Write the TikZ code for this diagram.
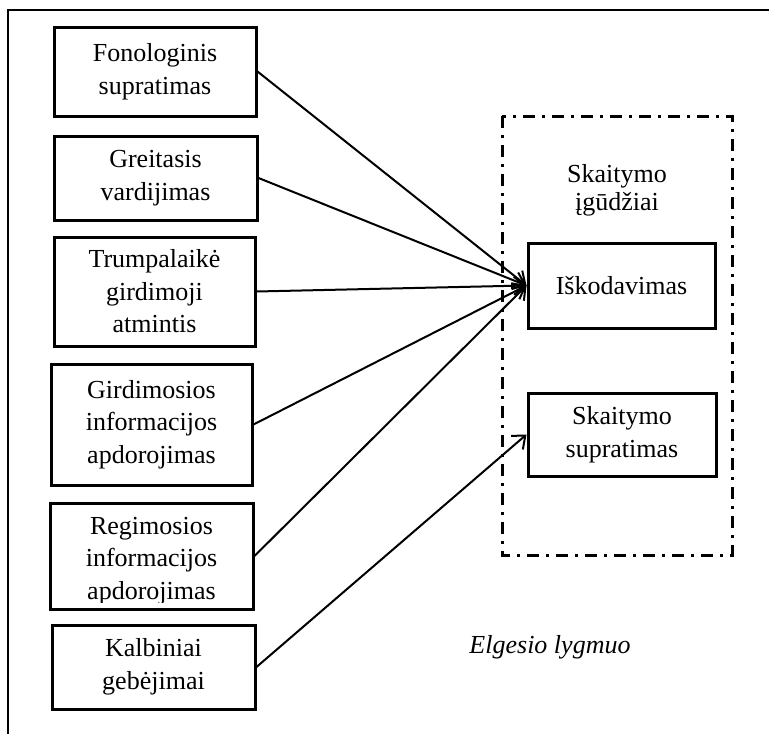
\documentclass[tikz,border=0pt]{standalone}
\usepackage{fontspec}
\setmainfont{Liberation Serif}
\usetikzlibrary{arrows.meta}
\begin{document}
\begin{tikzpicture}[x=1pt,y=-1pt,
  txt/.style={inner sep=0pt,align=center,font=\fontsize{26}{32.5}\selectfont},
  box/.style={txt,draw,line width=3pt},
  conn/.style={line width=2pt,-{Straight Barb[length=11pt,width=18pt,line width=2pt]}},
  frameline/.style={line width=2.6pt},
  group/.style={line width=3pt,dash pattern=on 12pt off 7pt on 3pt off 7pt}]
\useasboundingbox (0,0) rectangle (769,734);
\draw[frameline] (769,10) -- (8,10) -- (8,734);
% left boxes
\node[box,minimum width=202pt,minimum height=89pt] (b1) at (155,71.5) {Fonologinis\\supratimas};
\node[box,minimum width=203pt,minimum height=84pt] (b2) at (155.5,178) {Greitasis\\vardijimas};
\node[box,minimum width=201pt,minimum height=109pt] (b3) at (154.5,291.5) {Trumpalaikė\\girdimoji\\atmintis};
\node[box,minimum width=201pt,minimum height=121pt] (b4) at (151.5,424.5) {Girdimosios\\informacijos\\apdorojimas};
\node[box,minimum width=203pt,minimum height=106pt] (b5) at (151.5,556) {};
\begin{scope}
  \clip (49,502) rectangle (254,602);
  \node[txt] (t5) at (151.5,561) {Regimosios\\informacijos\\apdorojimas};
\end{scope}
\node[box,minimum width=203pt,minimum height=84pt] (b6) at (153.5,667) {Kalbiniai\\gebėjimai};
% right group
\draw[group] (502,116) rectangle (732,555);
\node[txt,font=\fontsize{26}{28}\selectfont] (grp) at (617,190) {Skaitymo\\įgūdžiai};
\node[box,minimum width=187pt,minimum height=85pt] (isk) at (621.5,285.5) {Iškodavimas};
\node[box,minimum width=188pt,minimum height=83pt] (sup) at (622,434.5) {Skaitymo\\supratimas};
\node[txt,anchor=base,font=\fontsize{26}{32}\selectfont\itshape] (lvl) at (550,653) {Elgesio lygmuo};
% connectors
\draw[conn] (b1.east) -- (isk.west);
\draw[conn] (b2.east) -- (isk.west);
\draw[conn] (b3.east) -- (isk.west);
\draw[conn] (b4.east) -- (isk.west);
\draw[conn] (b5.east) -- (isk.west);
\draw[conn] (b6.east) -- (sup.west);
\end{tikzpicture}
\end{document}
